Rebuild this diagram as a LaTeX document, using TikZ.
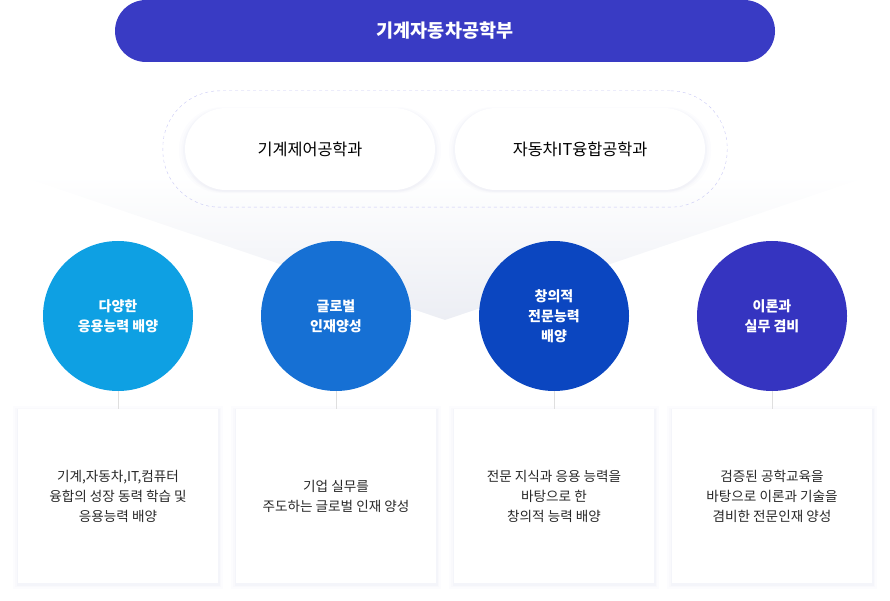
\documentclass[tikz,border=0pt]{standalone}
\usepackage{fontspec}
\setmainfont{Noto Sans CJK KR}
\usetikzlibrary{positioning,fit,shadows}
\definecolor{bannerblue}{RGB}{57,59,196}
\definecolor{cone}{RGB}{14,160,227}
\definecolor{ctwo}{RGB}{22,112,212}
\definecolor{cthree}{RGB}{11,70,192}
\definecolor{cfour}{RGB}{53,52,192}
\definecolor{dashline}{RGB}{200,200,245}
\definecolor{funnelgray}{RGB}{236,238,244}
\definecolor{glow}{RGB}{200,205,230}
\definecolor{bodytext}{RGB}{40,40,40}
\tikzset{x=1pt, y=-1pt, % one unit is one pixel
softglow/.style={drop shadow={opacity=0.05, shadow xshift=0pt, shadow yshift=-1pt, shadow scale=1.05, fill=glow}, drop shadow={opacity=0.07, shadow xshift=0pt, shadow yshift=-1pt, shadow scale=1.03, fill=glow}, drop shadow={opacity=0.10, shadow xshift=0pt, shadow yshift=-1pt, shadow scale=1.015, fill=glow}}, % faint shadow all round
banner/.style={fill=bannerblue, text=white, rounded corners=31pt, minimum width=660pt, minimum height=62pt, font=\fontsize{18.5}{22}\selectfont\bfseries}, % the top bar
dept/.style={fill=white, rounded corners=41pt, minimum width=250pt, minimum height=82pt, font=\fontsize{16.3}{19}\selectfont, softglow}, % department pills
goal/.style={circle, minimum size=150pt, inner sep=0pt, text=white, align=center, font=\fontsize{14}{20}\selectfont\bfseries}, % the coloured circles
detail/.style={fill=white, minimum width=200pt, minimum height=174pt, align=center, text=bodytext, font=\fontsize{13.6}{20}\selectfont, softglow}, % text boxes
link/.style={draw=gray!25, line width=0.8pt}, % circle to box
}
\begin{document}
\begin{tikzpicture}
\useasboundingbox (0,0) rectangle (890,601);
% funnel in the back
\shade[top color=white, bottom color=funnelgray] (20,176) -- (870,176) -- (445,320) -- cycle;
\node[banner] (top) at (445,31) {기계자동차공학부};
\node[dept] (mech) at (310,149) {기계제어공학과};
\node[dept] (auto) at (580,149) {자동차IT융합공학과};
\node[draw=dashline, dashed, rounded corners=57pt, fit=(mech)(auto), inner xsep=22pt, inner ysep=17pt] (group) {};
\node[goal, fill=cone] (g1) at (118,316) {다양한\\응용능력 배양};
\node[goal, fill=ctwo] (g2) at (336,316) {글로벌\\인재양성};
\node[goal, fill=cthree] (g3) at (554,316) {창의적\\전문능력\\배양};
\node[goal, fill=cfour] (g4) at (772,316) {이론과\\실무 겸비};
\node[detail, below=18pt of g1] (d1) {기계,자동차,IT,컴퓨터\\융합의 성장 동력 학습 및\\응용능력 배양};
\node[detail, below=18pt of g2] (d2) {기업 실무를\\주도하는 글로벌 인재 양성};
\node[detail, below=18pt of g3] (d3) {전문 지식과 응용 능력을\\바탕으로 한\\창의적 능력 배양};
\node[detail, below=18pt of g4] (d4) {검증된 공학교육을\\바탕으로 이론과 기술을\\겸비한 전문인재 양성};
\foreach \i in {1,2,3,4}
  \draw[link] (g\i) -- (d\i);
\end{tikzpicture}
\end{document}
